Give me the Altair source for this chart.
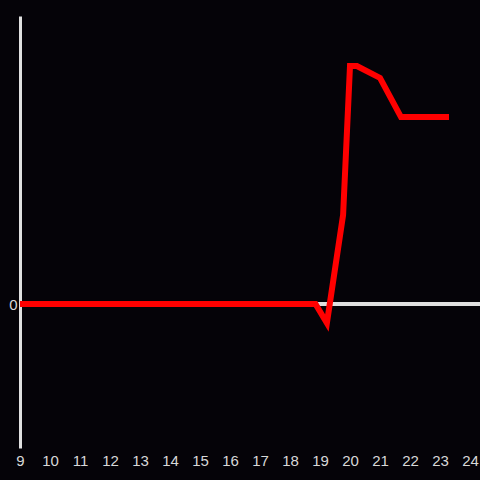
import altair as alt
import pandas as pd

# Data
hours = [9, 10, 11, 12, 13, 14, 15, 16, 17, 18, 18.85, 19.23, 19.77, 20.0, 20.23, 21.0, 21.7, 23.3]
values = [0, 0, 0, 0, 0, 0, 0, 0, 0, 0, 0, -6.6, 30.9, 82.6, 82.6, 78.5, 64.9, 64.9]
x_ticks = list(range(9, 25))
y_ticks = [0]

df = pd.DataFrame({"hour": hours, "value": values})

BG = "#050308"
AXIS_COL = "#e0e0e0"
LABEL_COL = "#d8d8d8"

x_enc = alt.X(
    "hour:Q",
    scale=alt.Scale(domain=[9, 24], nice=False, zero=False),
    axis=alt.Axis(
        values=x_ticks, title=None, grid=False, domain=False, ticks=False,
        labelColor=LABEL_COL, labelFontSize=15, labelPadding=5,
        labelFont="Liberation Sans", labelFlush=False,
    ),
)
y_scale = alt.Scale(domain=[-50, 100], nice=False, zero=False)

zero_rule = alt.Chart(df).mark_rule(color=AXIS_COL, strokeWidth=3).encode(
    y=alt.Y(datum=0, scale=y_scale),
    x=alt.value(0),
    x2=alt.value(460),
)

line = alt.Chart(df).mark_line(color="#ff0000", strokeWidth=6, strokeJoin="miter").encode(
    x=x_enc,
    y=alt.Y(
        "value:Q",
        scale=y_scale,
        axis=alt.Axis(
            values=y_ticks, title=None, grid=False, ticks=False,
            domainColor=AXIS_COL, domainWidth=3,
            labelColor=LABEL_COL, labelFontSize=15, labelPadding=3,
            labelFont="Liberation Sans",
        ),
    ),
)

chart = alt.layer(zero_rule, line).properties(
    width=450,
    height=432,
    background=BG,
    padding={"left": 20, "top": 16, "right": 10, "bottom": 30},
    autosize=alt.AutoSizeParams(type="none"),
).configure_view(stroke=None)


class _Tmpl:
    def render(self, **kw):
        from altair.utils.html import HTML_TEMPLATE
        s = HTML_TEMPLATE.render(**kw)
        css = "<style>\n    html, body { background: %s; margin: 0; padding: 0; overflow: hidden; }\n" % BG
        return s.replace("<style>", css, 1)


try:
    chart.save("out.html", embed_options={"renderer": "svg", "actions": False}, template=_Tmpl())
except Exception:
    chart.save("out.html", embed_options={"renderer": "svg", "actions": False})
